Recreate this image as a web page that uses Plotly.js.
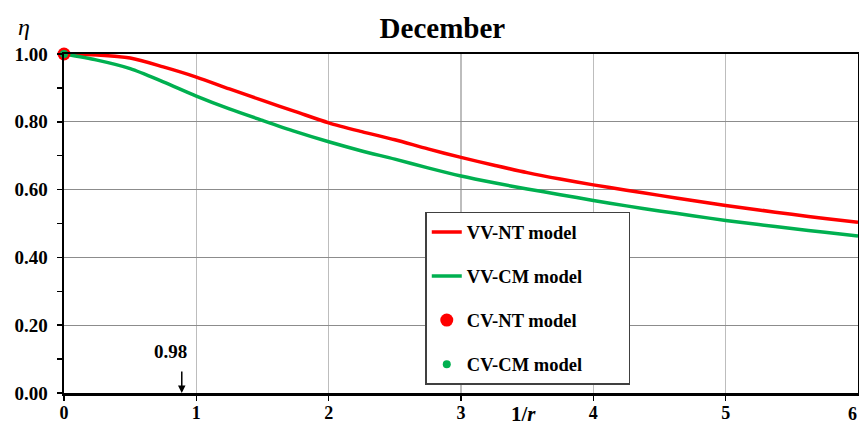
<!DOCTYPE html>
<html>
<head>
<meta charset="utf-8">
<script src="https://cdn.plot.ly/plotly-3.0.1.min.js"></script>
<style>html,body{margin:0;padding:0;background:#fff;}#chart{width:859px;height:425px;}</style>
</head>
<body>
<div id="chart"></div>
<script>
const invR = [0, 0.25, 0.5, 0.75, 1, 1.25, 1.5, 1.75, 2, 2.25, 2.5, 2.75, 3, 3.25, 3.5, 3.75, 4, 4.25, 4.5, 4.75, 5, 5.25, 5.5, 5.75, 6];
const vvNT = [1.0, 0.997, 0.988, 0.962, 0.932, 0.897, 0.863, 0.830, 0.797, 0.771, 0.747, 0.720, 0.695, 0.672, 0.650, 0.631, 0.614, 0.598, 0.583, 0.568, 0.553, 0.540, 0.527, 0.515, 0.504];
const vvCM = [1.0, 0.982, 0.957, 0.918, 0.876, 0.838, 0.804, 0.771, 0.741, 0.714, 0.690, 0.664, 0.640, 0.620, 0.602, 0.585, 0.568, 0.552, 0.537, 0.523, 0.509, 0.497, 0.485, 0.474, 0.463];
const cvNT_x = [0], cvNT_y = [1.0];
const cvCM_x = [0], cvCM_y = [1.0];
const yTicks = [0, 0.2, 0.4, 0.6, 0.8, 1.0];
const yTickText = ['0.00', '0.20', '0.40', '0.60', '0.80', '1.00'];
const xTicks = [0, 1, 2, 3, 4, 5, 6];
const markX = 0.89, markLabel = '0.98';

const F = 'Liberation Serif, Times New Roman, serif';
const RED = '#ff0000', GREEN = '#00b050';
const PAD = '&nbsp;'.repeat(9);

const traces = [
  {x: invR, y: vvNT, mode: 'lines', name: '<b>VV-NT model</b>' + PAD, line: {color: RED, width: 3.5, shape: 'spline', smoothing: 0.8}, legendgroup: 'a'},
  {x: invR, y: vvCM, mode: 'lines', name: '<b>VV-CM model</b>' + PAD, line: {color: GREEN, width: 3.5, shape: 'spline', smoothing: 0.8}, legendgroup: 'b'},
  {x: cvNT_x, y: cvNT_y, mode: 'markers', name: '<b>CV-NT model</b>' + PAD, marker: {color: RED, size: 13}, legendgroup: 'c', cliponaxis: false},
  {x: cvCM_x, y: cvCM_y, mode: 'markers', name: '<b>CV-CM model</b>' + PAD, marker: {color: GREEN, size: 8}, legendgroup: 'd', cliponaxis: false}
];

const layout = {
  width: 859, height: 425,
  margin: {l: 64, r: 1, t: 54, b: 32},
  paper_bgcolor: '#fff', plot_bgcolor: '#fff',
  font: {family: F, color: '#000'},
  title: {text: '<b>December</b>', font: {family: F, size: 29, color: '#000'}, x: 0.515, xanchor: 'center', y: 0.934, yanchor: 'middle'},
  xaxis: {
    range: [0, 6], tickvals: xTicks.slice(0, 6), ticktext: xTicks.slice(0, 6).map(v => '<b>' + v + '</b>'),
    showgrid: true, gridcolor: '#bdbdbd', gridwidth: 1.5,
    showline: true, linecolor: '#000', linewidth: 2.5, mirror: true,
    ticks: 'outside', ticklen: 5, tickcolor: '#000', tickwidth: 1.5,
    ticklabelstandoff: -3,
    tickfont: {family: F, size: 18, color: '#000'}, zeroline: false, fixedrange: true
  },
  yaxis: {
    range: [0, 1], tickvals: yTicks, ticktext: yTickText.map(v => '<b>' + v + '</b>'),
    showgrid: true, gridcolor: '#8c8c8c', gridwidth: 1.2,
    showline: true, linecolor: '#000', linewidth: 2.5, mirror: true,
    ticks: 'outside', ticklen: 5, tickcolor: '#000', tickwidth: 1.5,
    ticklabelstandoff: 5,
    minor: {dtick: 0.1, ticks: 'outside', ticklen: 5, tickcolor: '#000', tickwidth: 1.5, showgrid: false},
    tickfont: {family: F, size: 19, color: '#000'}, zeroline: false, fixedrange: true
  },
  showlegend: true,
  legend: {
    x: 0.455, y: 0.534, xanchor: 'left', yanchor: 'top',
    bgcolor: '#fff', bordercolor: '#404040', borderwidth: 1.5,
    font: {family: F, size: 18.5, color: '#000'},
    traceorder: 'grouped', tracegroupgap: 17, itemwidth: 30
  },
  annotations: [
    {xref: 'paper', yref: 'paper', x: -0.05, y: 1.08, text: '<i>η</i>', showarrow: false, font: {family: F, size: 24, color: '#000'}, xanchor: 'center', yanchor: 'middle'},
    {xref: 'x', yref: 'paper', x: 3.47, y: -0.062, text: '<b>1/<i>r</i></b>', showarrow: false, font: {family: F, size: 21, color: '#000'}, xanchor: 'center', yanchor: 'middle'},
    {xref: 'x', yref: 'paper', x: xTicks[6], y: -0.062, text: '<b>' + xTicks[6] + '</b>', showarrow: false, font: {family: F, size: 18, color: '#000'}, xanchor: 'right', xshift: 1, yanchor: 'middle'},
    {xref: 'x', yref: 'y', x: markX, y: 0.121, text: '<b>' + markLabel + '</b>', showarrow: false, xshift: -11, font: {family: F, size: 19, color: '#000'}, xanchor: 'center', yanchor: 'middle'},
    {xref: 'x', yref: 'y', x: markX, y: 0.0, text: '', showarrow: true, arrowhead: 2, arrowsize: 1, arrowwidth: 1.5, arrowcolor: '#000', ax: 0, ay: -23, standoff: 0}
  ]
};

Plotly.newPlot('chart', traces, layout, {staticPlot: true});
</script>
</body>
</html>
